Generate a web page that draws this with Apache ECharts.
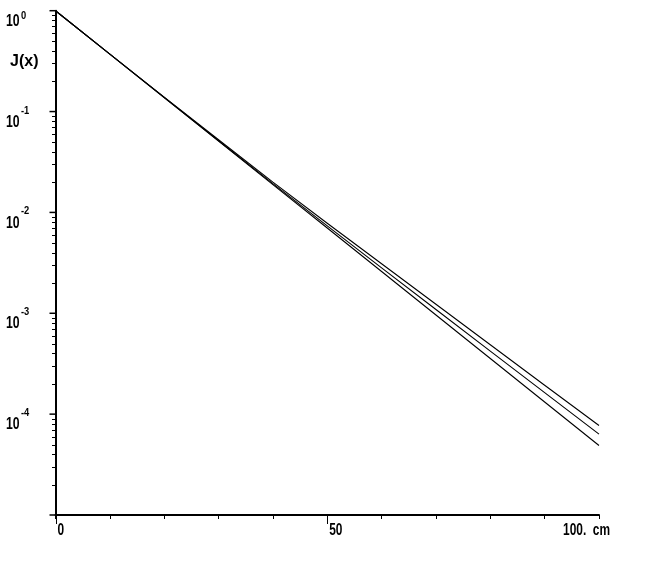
<!DOCTYPE html>
<html><head><meta charset="utf-8">
<script src="https://cdn.jsdelivr.net/npm/echarts@6/dist/echarts.min.js"></script>
<style>html,body{margin:0;padding:0;background:#fff}#c{width:654px;height:565px}</style>
</head><body><div id="c"></div>
<script>
// ---- data ----
const xValues = [0, 10, 20, 30, 40, 50, 60, 70, 80, 90, 100];
const curveTop = [1, 0.3715, 0.1390, 0.05250, 0.01995, 0.00780, 0.003100, 0.00123, 0.000488, 0.0001936, 0.0000771];
const curveMid = [1, 0.3711, 0.1380, 0.05140, 0.01930, 0.00735, 0.00282, 0.001091, 0.000422, 0.0001633, 0.0000634];
const curveBottom = [1, 0.3707, 0.1374, 0.0509, 0.01888, 0.0070, 0.002594, 0.000962, 0.000356, 0.000132, 0.0000489];

// ---- axis ticks / labels ----
const yDecades = [1e-5, 1e-4, 1e-3, 1e-2, 1e-1, 1];
const yMinorMultipliers = [2, 3, 4, 5, 6, 7, 8, 9];
const yLabelValues = [1, 1e-1, 1e-2, 1e-3, 1e-4];
const yLabelExponents = ['0', '-1', '-2', '-3', '-4'];
const xLongTicks = [0, 50];
const xLabelValues = [0, 50, 100];
const xLabelTexts = ['0', '50', '100.  cm'];
const yAxisTitle = 'J(x)';

const X_MIN = 0, X_MAX = 100, Y_MIN = 1e-5, Y_MAX = 1;
const FONT = '"Liberation Sans", Arial, sans-serif';

const yMinorValues = [];
yDecades.slice(0, -1).forEach(d => yMinorMultipliers.forEach(m => yMinorValues.push(d * m)));

function lineSeries(vals) {
  return {
    type: 'line', data: xValues.map((x, i) => [x, vals[i]]),
    symbol: 'none', smooth: false, silent: true,
    lineStyle: { color: '#000', width: 1.1 }
  };
}
function txt(x, y, text, size, align, vAlign, sx) {
  return { type: 'text', x: x, y: y, scaleX: sx, scaleY: 1,
    style: { text: text, fill: '#000', fontFamily: FONT, fontSize: size, fontWeight: 'bold', align: align, verticalAlign: vAlign } };
}

const chart = echarts.init(document.getElementById('c'), null, { renderer: 'canvas' });
chart.setOption({
  animation: false,
  backgroundColor: '#fff',
  grid: { left: 55.5, right: 55, top: 10.7, bottom: 50, containLabel: false },
  xAxis: {
    type: 'value', min: X_MIN, max: X_MAX, interval: 10,
    axisLine: { show: true, onZero: false, lineStyle: { color: '#000', width: 2 } },
    axisTick: { show: true, length: 4, lineStyle: { color: '#000', width: 1 } },
    axisLabel: { show: false }, splitLine: { show: false }
  },
  yAxis: {
    type: 'log', logBase: 10, min: Y_MIN, max: Y_MAX,
    axisLine: { show: true, onZero: false, lineStyle: { color: '#000', width: 2 } },
    axisTick: { show: false }, axisLabel: { show: false }, splitLine: { show: false }
  },
  graphic: [{
    type: 'text', x: 10, y: 62, scaleX: 1,
    style: { text: yAxisTitle, fill: '#000', fontFamily: FONT, fontSize: 16, fontWeight: 'bold', align: 'left', verticalAlign: 'middle' }
  }],
  series: [
    lineSeries(curveTop),
    lineSeries(curveMid),
    lineSeries(curveBottom),
    { // y major ticks
      type: 'custom', clip: false, silent: true,
      data: yDecades.map(v => [X_MIN, v]),
      renderItem: (p, api) => {
        const c = api.coord([X_MIN, api.value(1)]);
        return { type: 'line', shape: { x1: c[0] - 6, y1: c[1], x2: c[0], y2: c[1] }, style: { stroke: '#000', lineWidth: 1.5 } };
      }
    },
    { // y minor ticks
      type: 'custom', clip: false, silent: true,
      data: yMinorValues.map(v => [X_MIN, v]),
      renderItem: (p, api) => {
        const c = api.coord([X_MIN, api.value(1)]);
        const y = Math.round(c[1]) + 0.5;
        return { type: 'line', shape: { x1: c[0] - 3.5, y1: y, x2: c[0], y2: y }, style: { stroke: '#000', lineWidth: 1 } };
      }
    },
    { // x long ticks
      type: 'custom', clip: false, silent: true,
      data: xLongTicks.map(v => [v, Y_MIN]),
      renderItem: (p, api) => {
        const c = api.coord([api.value(0), Y_MIN]);
        const x = Math.round(c[0]) + 0.5;
        return { type: 'line', shape: { x1: x, y1: c[1], x2: x, y2: c[1] + 9 }, style: { stroke: '#000', lineWidth: 1 } };
      }
    },
    { // y labels 10^n
      type: 'custom', clip: false, silent: true,
      data: yLabelValues.map(v => [X_MIN, v]),
      renderItem: (p, api) => {
        const c = api.coord([X_MIN, api.value(1)]);
        const expY = Math.max(c[1] - 1, 15.5);
        return {
          type: 'group', children: [
            txt(c[0] - 36, c[1] + 10.5, '10', 17, 'right', 'middle', 0.72),
            txt(c[0] - 34.5, expY, yLabelExponents[p.dataIndex], 11, 'left', 'middle', 0.85)
          ]
        };
      }
    },
    { // x labels
      type: 'custom', clip: false, silent: true,
      data: xLabelValues.map(v => [v, Y_MIN]),
      renderItem: (p, api) => {
        const v = api.value(0);
        const c = api.coord([v, Y_MIN]);
        const isLast = v === X_MAX;
        return txt(isLast ? c[0] + 11 : c[0] + 2, c[1] + 15, xLabelTexts[p.dataIndex], 17,
                   isLast ? 'right' : 'left', 'middle', 0.7);
      }
    }
  ]
});
</script></body></html>
